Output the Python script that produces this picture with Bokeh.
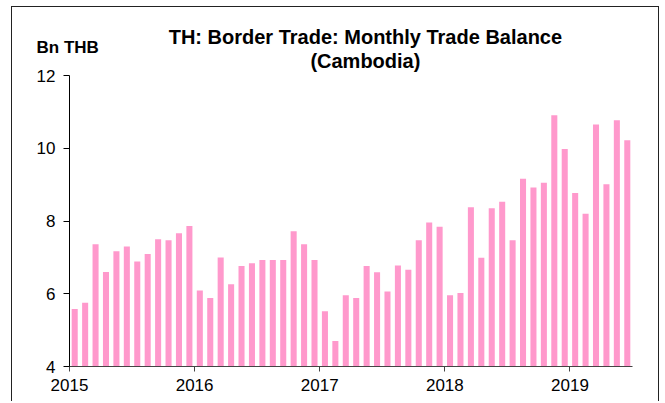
from bokeh.plotting import figure
from bokeh.models import Label, FixedTicker, Spacer, Range1d
from bokeh.layouts import row, column
from bokeh.embed import file_html
from bokeh.resources import INLINE

# Monthly trade balance, Jan 2015 - Jun 2019 (Bn THB)
months = list(range(54))
values = [
    5.58, 5.75, 7.36, 6.60, 7.17, 7.30, 6.89, 7.09, 7.50, 7.47, 7.66, 7.86,   # 2015
    6.09, 5.88, 7.00, 6.26, 6.76, 6.84, 6.93, 6.93, 6.93, 7.72, 7.36, 6.93,   # 2016
    5.52, 4.70, 5.96, 5.88, 6.76, 6.59, 6.06, 6.78, 6.66, 7.47, 7.96, 7.84,   # 2017
    5.96, 6.02, 8.38, 6.99, 8.35, 8.53, 7.47, 9.16, 8.92, 9.05, 10.91, 9.98,  # 2018
    8.77, 8.20, 10.65, 9.01, 10.77, 10.22,                                    # 2019
]
year_ticks = [0, 12, 24, 36, 48]
year_labels = ["2015", "2016", "2017", "2018", "2019"]
y_ticks = [4, 6, 8, 10, 12]

x_centers = [m + 0.5 for m in months]

FONT = "Liberation Sans"

p = figure(width=648, height=395, output_backend="svg", toolbar_location=None,
           x_range=Range1d(0, 54), y_range=Range1d(4, 12),
           min_border_left=57, min_border_right=28, min_border_top=68, min_border_bottom=36,
           background_fill_color="white", border_fill_color="white")
p.styles = {"border-left": "1px solid #222", "border-right": "1px solid #222",
            "border-top": "1px solid #222"}
p.outline_line_color = None
p.grid.visible = False

p.vbar(x=x_centers, top=values, bottom=4, width=0.58, fill_color="#FF99CC",
       line_color=None)

# axes
p.xaxis.ticker = FixedTicker(ticks=year_ticks)
p.xaxis.major_label_overrides = {t: l for t, l in zip(year_ticks, year_labels)}
p.xaxis.minor_tick_line_color = None
p.xaxis.major_tick_in = 0
p.xaxis.major_tick_out = 5
p.xaxis.axis_line_color = "#444444"
p.xaxis.major_tick_line_color = "#444444"
p.xaxis.major_label_text_font = FONT
p.xaxis.major_label_text_font_size = "17px"
p.xaxis.major_label_text_color = "black"
p.xaxis.major_label_standoff = 7

p.yaxis.ticker = FixedTicker(ticks=y_ticks)
p.yaxis.minor_tick_line_color = None
p.yaxis.major_tick_in = 0
p.yaxis.major_tick_out = 6
p.yaxis.axis_line_color = "black"
p.yaxis.major_tick_line_color = "black"
p.yaxis.major_label_text_font = FONT
p.yaxis.major_label_text_font_size = "17px"
p.yaxis.major_label_text_color = "black"
p.yaxis.major_label_standoff = 8

# titles and unit label live in the top side panel (not clipped to the frame)
p.add_layout(Label(x=28.38, y=13.053, text="TH: Border Trade: Monthly Trade Balance",
                   text_align="center", text_baseline="alphabetic",
                   text_font=FONT, text_font_style="bold", text_font_size="20px",
                   text_color="black"), "above")
p.add_layout(Label(x=28.38, y=12.412, text="(Cambodia)",
                   text_align="center", text_baseline="alphabetic",
                   text_font=FONT, text_font_style="bold", text_font_size="20px",
                   text_color="black"), "above")
p.add_layout(Label(x=-3.16, y=12.77, text="Bn THB",
                   text_align="left", text_baseline="alphabetic",
                   text_font=FONT, text_font_style="bold", text_font_size="17px",
                   text_color="black"), "above")

layout = column(Spacer(width=10, height=6), row(Spacer(width=11, height=10), p))
open("out.html", "w").write(file_html(layout, INLINE))
